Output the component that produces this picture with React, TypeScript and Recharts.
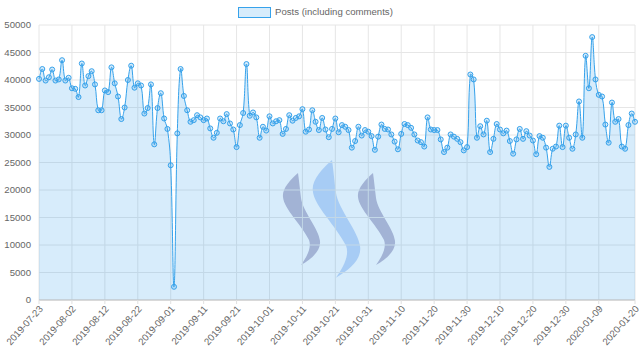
import React from 'react'
import { AreaChart, Area, XAxis, YAxis, CartesianGrid, Legend } from 'recharts'

// daily post counts, 2019-07-23 .. 2020-01-20
const postsJul = [40200, 42000, 39900, 40500, 41900, 39900, 40100, 43600, 39900]
const postsAug = [
  40400, 38500, 38400, 36900, 43000, 39000, 40700, 41600, 39200, 34500, 34500,
  38100, 37800, 42300, 39400, 37000, 32900, 35000, 40000, 42600, 38600, 39400,
  39000, 33900, 34900, 39200, 28300, 34900, 37600, 33000, 31100,
]
const postsSep = [
  24500, 2400, 30300, 42000, 37100, 34500, 32400, 32700, 33600, 33200, 32700,
  33000, 31200, 29500, 30400, 33000, 32500, 33800, 32100, 31000, 27800, 31800,
  34000, 42900, 33500, 34100, 33200, 29500, 31500, 30800,
]
const postsOct = [
  33400, 32100, 32500, 32700, 30200, 31100, 33600, 32600, 33100, 33400, 34700,
  30600, 31000, 34500, 32400, 30900, 33100, 31000, 29600, 31100, 33000, 30500,
  31800, 31500, 30900, 27700, 28900, 31500, 29900, 30900, 30600,
]
const postsNov = [
  29800, 27300, 29700, 31900, 31100, 31000, 30100, 28800, 27400, 30200, 32000,
  31800, 31300, 30100, 29000, 28700, 27900, 33200, 31000, 30900, 30900, 29200,
  26900, 27700, 30100, 29700, 29300, 28700, 27200, 27800,
]
const postsDec = [
  41000, 40100, 29500, 31600, 30100, 32600, 26900, 29300, 32000, 31000, 30300,
  30800, 28900, 26600, 29200, 31100, 29300, 30700, 29900, 29000, 26500, 29800,
  29500, 27700, 24200, 27500, 27900, 31700, 27800, 31700, 29500,
]
const postsJan = [
  27500, 30100, 36100, 29500, 44400, 38500, 47800, 40100, 37300, 37000, 31900,
  28600, 35900, 32400, 32900, 27900, 27500, 31800, 33900, 32400,
]

const xTickIdx = [0, 10, 20, 30, 40, 50, 60, 70, 80, 90, 100, 110, 120, 130, 140, 150, 160, 170, 181]
const yTicks = [0, 5000, 10000, 15000, 20000, 25000, 30000, 35000, 40000, 45000, 50000]

const dayLabel = (i: number) => new Date(Date.UTC(2019, 6, 23 + i)).toISOString().slice(0, 10)

const posts = [...postsJul, ...postsAug, ...postsSep, ...postsOct, ...postsNov, ...postsDec, ...postsJan]
const data = posts.map((v, i) => ({ idx: i, date: dayLabel(i), posts: v }))

const BLUE = 'rgb(54,162,235)'
const FILL = 'rgba(54,162,235,0.2)'
const FONT = '"Liberation Sans", Arial, Helvetica, sans-serif'
const FS = 9.6

// chart.js style spline (tension 0.4)
function chartJsCurve(context: any) {
  let xs: number[] = []
  let ys: number[] = []
  let line = NaN
  const t = 0.4
  return {
    areaStart() { line = 0 },
    areaEnd() { line = NaN },
    lineStart() { xs = []; ys = [] },
    lineEnd() {
      const n = xs.length
      if (n) {
        if (line) context.lineTo(xs[0], ys[0])
        else context.moveTo(xs[0], ys[0])
        const cps = xs.map((x, i) => {
          const px = xs[Math.max(0, i - 1)], py = ys[Math.max(0, i - 1)]
          const nx = xs[Math.min(n - 1, i + 1)], ny = ys[Math.min(n - 1, i + 1)]
          const d01 = Math.hypot(x - px, ys[i] - py)
          const d12 = Math.hypot(nx - x, ny - ys[i])
          const s01 = d01 + d12 ? d01 / (d01 + d12) : 0
          const s12 = d01 + d12 ? d12 / (d01 + d12) : 0
          return {
            prev: [x - t * s01 * (nx - px), ys[i] - t * s01 * (ny - py)],
            next: [x + t * s12 * (nx - px), ys[i] + t * s12 * (ny - py)],
          }
        })
        for (let i = 0; i < n - 1; i++) {
          context.bezierCurveTo(cps[i].next[0], cps[i].next[1], cps[i + 1].prev[0], cps[i + 1].prev[1], xs[i + 1], ys[i + 1])
        }
      }
      if (line || (line !== 0 && n === 1)) context.closePath()
      line = 1 - line
    },
    point(x: number, y: number) { xs.push(+x); ys.push(+y) },
  }
}

const DateTick = ({ x, y, payload }: any) => (
  <g transform={`translate(${x + 2},${y})`}>
    <text transform="rotate(-48)" textAnchor="end" fill="#666" fontSize={FS} fontFamily={FONT} dy="0.35em">
      {dayLabel(payload.value)}
    </text>
  </g>
)

const LegendBox = () => (
  <div style={{ position: 'relative', height: 20, fontFamily: FONT, fontSize: FS, color: '#666' }}>
    <div style={{ position: 'absolute', left: 238, top: 7, width: 31, height: 9, background: FILL, border: `1px solid ${BLUE}` }} />
    <span style={{ position: 'absolute', left: 275, top: 6, lineHeight: '12px', whiteSpace: 'nowrap' }}>Posts (including comments)</span>
  </div>
)

const S_PATH = 'M0,0 C-8,7 -16,16 -15,24 C-14,36 3,51 11,67 C14,75 8,85 3,92 C15,85 23,77 22,68 C21,56 5,39 3,25 C2,17 1,7 0,0 Z'

const Watermark = () => (
  <svg width={640} height={361} style={{ position: 'absolute', left: 0, top: 0 }}>
    <path d={S_PATH} transform="translate(298,173)" fill="#bdb8d0" />
    <path d={S_PATH} transform="translate(332,160) scale(1.28)" fill="#c4d8f8" />
    <path d={S_PATH} transform="translate(373,173)" fill="#bdb8d0" />
  </svg>
)

export default function App() {
  return (
    <div style={{ position: 'absolute', left: 0, top: 0, width: 640, height: 361, background: '#fff' }}>
      <Watermark />
      <div style={{ position: 'absolute', left: 0, top: 0 }}>
        <AreaChart width={640} height={361} data={data} margin={{ top: 25, right: 5, bottom: 0, left: 0 }}>
          <CartesianGrid stroke="#e6e6e6" strokeWidth={1} />
          <XAxis
            type="number"
            dataKey="idx"
            domain={[0, 181]}
            ticks={xTickIdx}
            interval={0}
            height={61}
            tick={<DateTick />}
            tickSize={4}
            tickMargin={3}
            tickLine={{ stroke: '#e0e0e0' }}
            axisLine={{ stroke: '#c0c0c0' }}
          />
          <YAxis
            domain={[0, 50000]}
            ticks={yTicks}
            width={39}
            tickLine={false}
            axisLine={false}
            tickSize={0}
            tickMargin={8}
            tick={{ fill: '#666', fontSize: FS, fontFamily: FONT }}
          />
          <Legend verticalAlign="middle" align="center" layout="horizontal" wrapperStyle={{ top: 0, left: 0, width: 640 }} content={<LegendBox />} />
          <Area
            type={chartJsCurve as any}
            dataKey="posts"
            name="Posts (including comments)"
            stroke={BLUE}
            strokeWidth={1}
            fill={FILL}
            fillOpacity={1}
            dot={{ r: 2.5, fill: FILL, stroke: BLUE, strokeWidth: 1 }}
            activeDot={false}
            isAnimationActive={false}
          />
        </AreaChart>
      </div>
    </div>
  )
}
